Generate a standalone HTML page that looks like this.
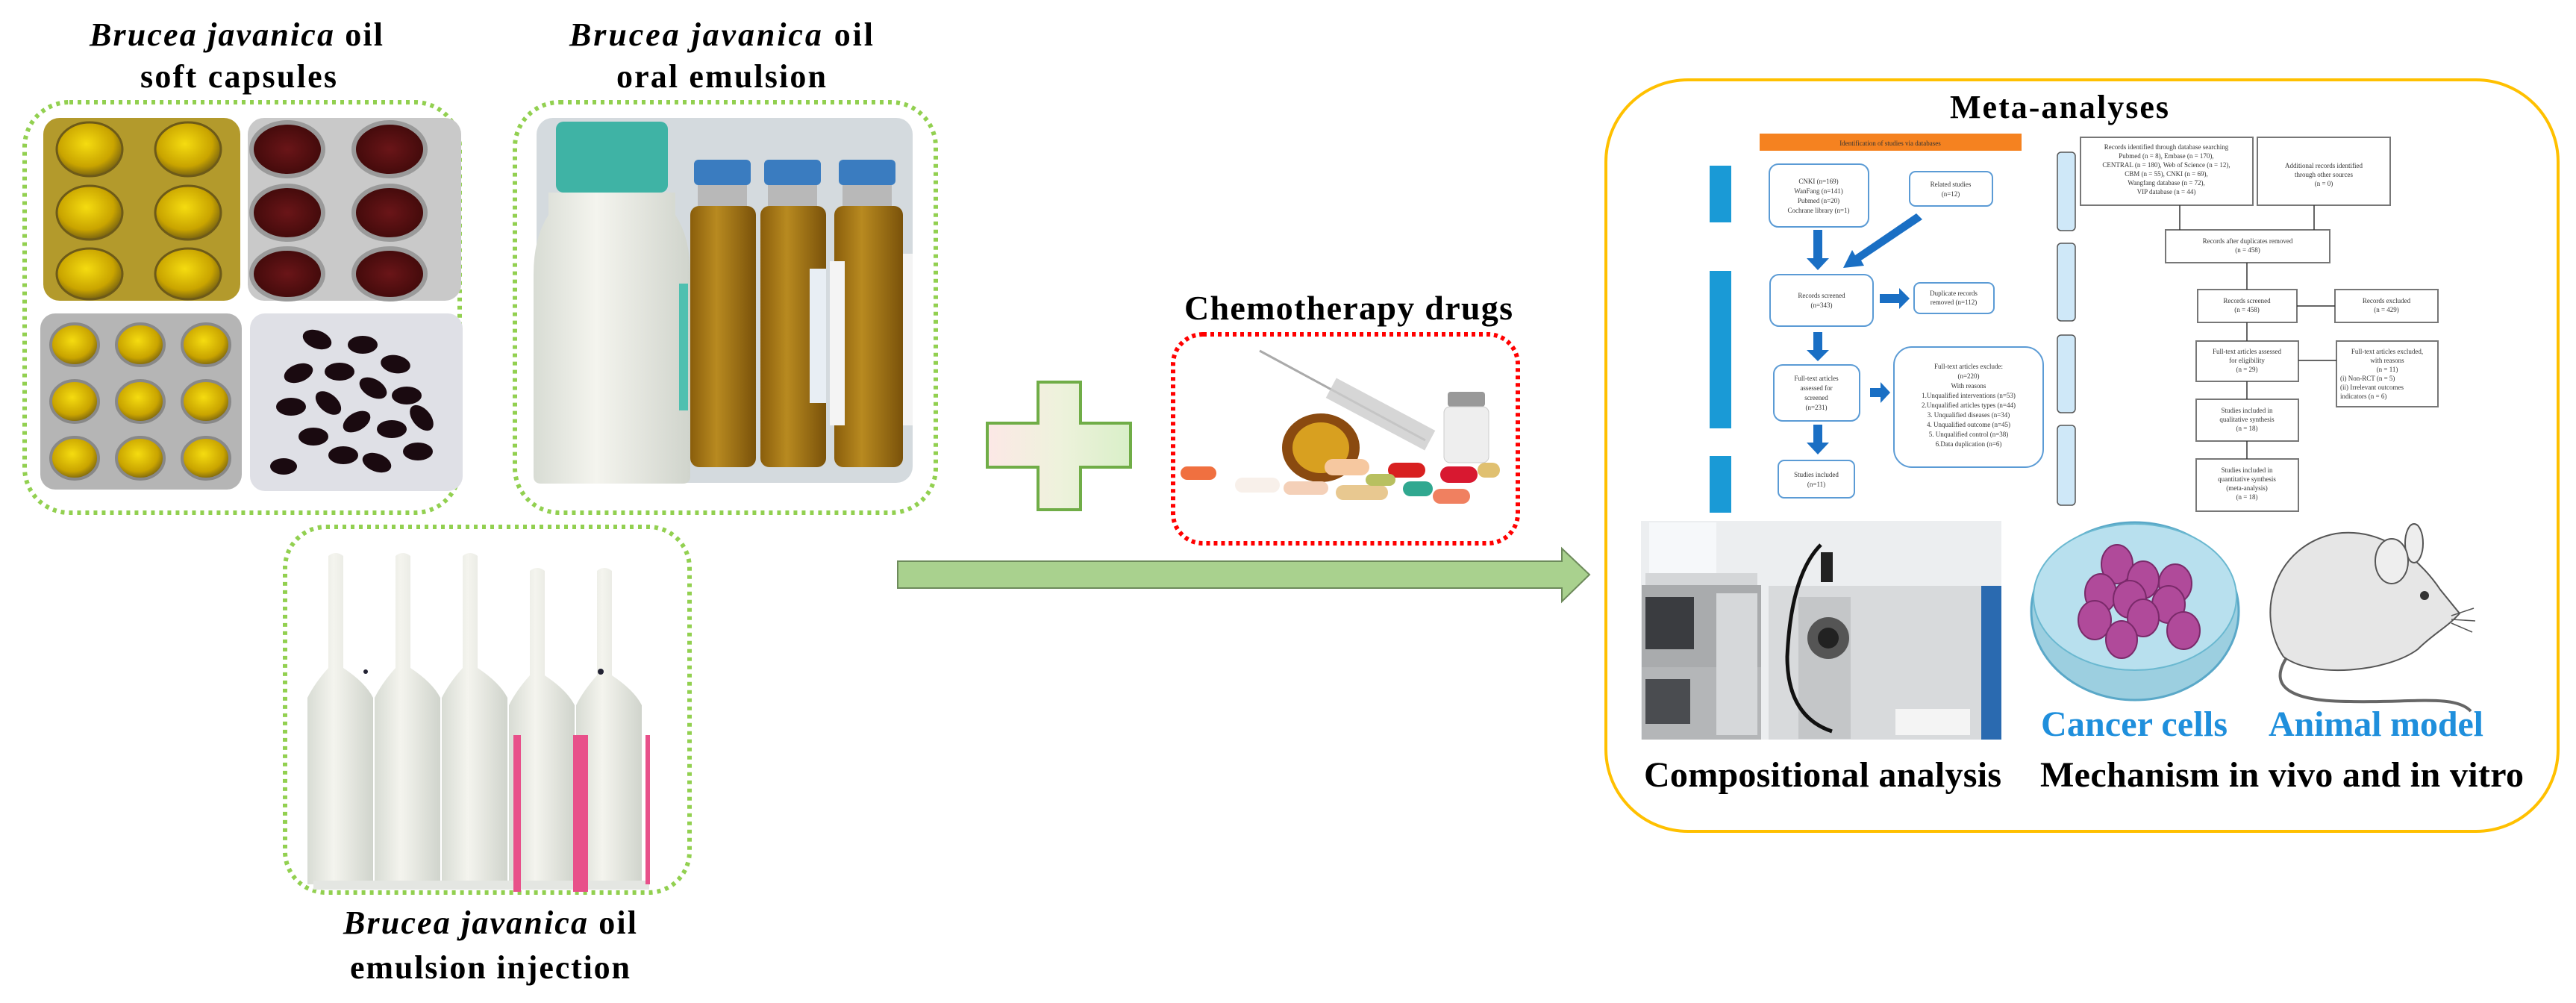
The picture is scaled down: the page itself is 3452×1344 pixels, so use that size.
<!DOCTYPE html>
<html><head><meta charset="utf-8"><style>
html,body{margin:0;padding:0;background:#fff;}
svg{display:block;}
text{font-family:"Liberation Serif",serif;font-weight:bold;}
.s{font-family:"Liberation Serif",serif;font-weight:normal;font-size:9px;fill:#333;}
</style></head><body>
<svg width="3452" height="1344" viewBox="0 0 3452 1344" xmlns="http://www.w3.org/2000/svg">
<defs>
<linearGradient id="pg" x1="0" x2="1" y1="0" y2="0"><stop offset="0" stop-color="#fce8e6"/><stop offset="0.5" stop-color="#eef2dc"/><stop offset="1" stop-color="#d9efc8"/></linearGradient>
<radialGradient id="yel" cx="0.45" cy="0.4" r="0.6"><stop offset="0" stop-color="#f5dc10"/><stop offset="0.7" stop-color="#c9a400"/><stop offset="1" stop-color="#7a6410"/></radialGradient>
<radialGradient id="red" cx="0.5" cy="0.5" r="0.6"><stop offset="0" stop-color="#6a1518"/><stop offset="1" stop-color="#3a0808"/></radialGradient>
<linearGradient id="amb" x1="0" x2="1"><stop offset="0" stop-color="#8a5e0c"/><stop offset="0.4" stop-color="#b88a20"/><stop offset="1" stop-color="#7a520a"/></linearGradient>
<linearGradient id="wht" x1="0" x2="1"><stop offset="0" stop-color="#d8dcd4"/><stop offset="0.4" stop-color="#f4f4ee"/><stop offset="1" stop-color="#d0d4cc"/></linearGradient>
</defs>

<text x="120" y="61" font-size="44" textLength="393"><tspan font-style="italic">Brucea javanica</tspan> oil</text>
<text x="188" y="117" font-size="44" textLength="263">soft capsules</text>
<text x="763" y="61" font-size="44" textLength="407"><tspan font-style="italic">Brucea javanica</tspan>  oil</text>
<text x="826" y="117" font-size="44" textLength="281">oral emulsion</text>
<text x="460" y="1251" font-size="44" textLength="393"><tspan font-style="italic">Brucea javanica</tspan> oil</text>
<text x="469" y="1311" font-size="44" textLength="375">emulsion injection</text>

<rect x="33" y="137" width="583" height="550" rx="60" fill="none" stroke="#92d050" stroke-width="6" stroke-dasharray="5 6"/>
<rect x="58" y="158" width="264" height="245" rx="22" fill="#b39a2c"/>
<g fill="url(#yel)" stroke="#6d5a18" stroke-width="3">
<ellipse cx="120" cy="200" rx="44" ry="36"/><ellipse cx="252" cy="200" rx="44" ry="36"/>
<ellipse cx="120" cy="285" rx="44" ry="36"/><ellipse cx="252" cy="285" rx="44" ry="36"/>
<ellipse cx="120" cy="367" rx="44" ry="34"/><ellipse cx="252" cy="367" rx="44" ry="34"/>
</g>
<rect x="332" y="158" width="286" height="245" rx="22" fill="#c9c9c9"/>
<g fill="url(#red)" stroke="#9a9a9a" stroke-width="6">
<ellipse cx="385" cy="200" rx="48" ry="36"/><ellipse cx="522" cy="200" rx="48" ry="36"/>
<ellipse cx="385" cy="285" rx="48" ry="36"/><ellipse cx="522" cy="285" rx="48" ry="36"/>
<ellipse cx="385" cy="367" rx="48" ry="34"/><ellipse cx="522" cy="367" rx="48" ry="34"/>
</g>
<rect x="54" y="420" width="270" height="236" rx="20" fill="#b5b5b5"/>
<g fill="url(#yel)" stroke="#888" stroke-width="4">
<ellipse cx="100" cy="462" rx="32" ry="28"/><ellipse cx="188" cy="462" rx="32" ry="28"/><ellipse cx="276" cy="462" rx="32" ry="28"/>
<ellipse cx="100" cy="538" rx="32" ry="28"/><ellipse cx="188" cy="538" rx="32" ry="28"/><ellipse cx="276" cy="538" rx="32" ry="28"/>
<ellipse cx="100" cy="614" rx="32" ry="28"/><ellipse cx="188" cy="614" rx="32" ry="28"/><ellipse cx="276" cy="614" rx="32" ry="28"/>
</g>
<rect x="335" y="420" width="285" height="238" rx="20" fill="#dfe0e6"/>
<g fill="#1a0a10">
<ellipse cx="425" cy="455" rx="20" ry="12" transform="rotate(20 425 455)"/><ellipse cx="486" cy="462" rx="20" ry="12"/><ellipse cx="530" cy="488" rx="20" ry="12" transform="rotate(10 530 488)"/>
<ellipse cx="400" cy="500" rx="20" ry="12" transform="rotate(-20 400 500)"/><ellipse cx="455" cy="498" rx="20" ry="12"/><ellipse cx="500" cy="520" rx="20" ry="12" transform="rotate(30 500 520)"/>
<ellipse cx="545" cy="530" rx="20" ry="12"/><ellipse cx="390" cy="545" rx="20" ry="12"/><ellipse cx="440" cy="540" rx="20" ry="12" transform="rotate(40 440 540)"/>
<ellipse cx="478" cy="565" rx="20" ry="12" transform="rotate(-30 478 565)"/><ellipse cx="525" cy="575" rx="20" ry="12"/><ellipse cx="420" cy="585" rx="20" ry="12"/>
<ellipse cx="565" cy="560" rx="20" ry="12" transform="rotate(50 565 560)"/><ellipse cx="460" cy="610" rx="20" ry="12"/><ellipse cx="505" cy="620" rx="20" ry="12" transform="rotate(20 505 620)"/>
<ellipse cx="560" cy="605" rx="20" ry="12"/><ellipse cx="380" cy="625" rx="18" ry="11"/>
</g>

<rect x="690" y="137" width="564" height="550" rx="60" fill="none" stroke="#92d050" stroke-width="6" stroke-dasharray="5 6"/>
<rect x="719" y="158" width="504" height="489" rx="22" fill="#d4dade"/>
<rect x="745" y="163" width="150" height="95" rx="10" fill="#3fb3a5"/>
<path d="M735 258 h170 v30 q20 30 20 80 v270 q0 10 -10 10 h-190 q-10 0 -10 -10 v-270 q0 -50 20 -80z" fill="url(#wht)"/>
<rect x="910" y="380" width="12" height="170" fill="#4fc0b0"/>
<g>
<rect x="930" y="214" width="76" height="34" rx="6" fill="#3a7cc0"/><rect x="935" y="248" width="66" height="28" fill="#b8b8b8"/>
<rect x="925" y="276" width="88" height="350" rx="12" fill="url(#amb)"/>
<rect x="1024" y="214" width="76" height="34" rx="6" fill="#3a7cc0"/><rect x="1029" y="248" width="66" height="28" fill="#b8b8b8"/>
<rect x="1019" y="276" width="88" height="350" rx="12" fill="url(#amb)"/>
<rect x="1124" y="214" width="76" height="34" rx="6" fill="#3a7cc0"/><rect x="1129" y="248" width="66" height="28" fill="#b8b8b8"/>
<rect x="1118" y="276" width="92" height="350" rx="12" fill="url(#amb)"/>
<rect x="1112" y="350" width="20" height="220" fill="#f4f4f4"/><rect x="1210" y="340" width="13" height="230" fill="#f4f4f4"/>
<rect x="1085" y="360" width="22" height="180" fill="#e8eef4"/>
</g>

<rect x="382" y="706" width="542" height="490" rx="55" fill="none" stroke="#92d050" stroke-width="6" stroke-dasharray="5 6"/>
<g fill="url(#wht)">
<path d="M440 745 q10 -8 20 0 v150 q30 20 40 40 v250 h-88 v-250 q10 -20 28 -40z"/>
<path d="M530 745 q10 -8 20 0 v150 q30 20 40 40 v250 h-88 v-250 q10 -20 28 -40z"/>
<path d="M620 745 q10 -8 20 0 v150 q30 20 40 40 v250 h-88 v-250 q10 -20 28 -40z"/>
<path d="M710 765 q10 -8 20 0 v140 q30 20 40 40 v240 h-88 v-240 q10 -20 28 -40z"/>
<path d="M800 765 q10 -8 20 0 v140 q30 20 40 40 v240 h-88 v-240 q10 -20 28 -40z"/>
</g>
<rect x="420" y="1180" width="450" height="12" fill="#e4e6e2"/>
<rect x="688" y="985" width="10" height="210" fill="#e8508a"/><rect x="768" y="985" width="20" height="210" fill="#e8508a"/><rect x="865" y="985" width="6" height="200" fill="#e8508a"/>
<circle cx="490" cy="900" r="3" fill="#223"/><circle cx="805" cy="900" r="4" fill="#223"/>

<path d="M1391 512 h57 v55 h67 v59 h-67 v57 h-57 v-57 h-68 v-59 h68z" fill="url(#pg)" stroke="#70ad47" stroke-width="4"/>

<text x="1587" y="428" font-size="46" textLength="440">Chemotherapy drugs</text>
<rect x="1572" y="448" width="462" height="280" rx="40" fill="none" stroke="#ff0000" stroke-width="6" stroke-dasharray="5 5"/>
<line x1="1688" y1="470" x2="1910" y2="590" stroke="#aaa" stroke-width="3"/>
<rect x="1775" y="540" width="150" height="30" fill="#ccc" opacity="0.8" transform="rotate(28 1850 555)"/>
<ellipse cx="1770" cy="600" rx="52" ry="46" fill="#8a4a10"/><ellipse cx="1770" cy="600" rx="38" ry="34" fill="#d8a020"/>
<rect x="1940" y="525" width="50" height="20" rx="4" fill="#999"/><rect x="1935" y="545" width="60" height="75" rx="8" fill="#eee" stroke="#ccc"/>
<g>
<rect x="1582" y="625" width="48" height="18" rx="9" fill="#f07040"/><rect x="1655" y="640" width="60" height="20" rx="10" fill="#f8f0ea"/>
<rect x="1720" y="645" width="60" height="18" rx="9" fill="#f4d0b8"/><rect x="1775" y="615" width="60" height="22" rx="11" fill="#f6c8a0"/>
<rect x="1790" y="650" width="70" height="20" rx="10" fill="#e8c890"/><rect x="1860" y="620" width="50" height="20" rx="10" fill="#d82020"/>
<rect x="1880" y="645" width="40" height="20" rx="10" fill="#30a890"/><rect x="1920" y="655" width="50" height="20" rx="10" fill="#f08060"/>
<rect x="1930" y="625" width="50" height="22" rx="11" fill="#d81830"/><rect x="1980" y="620" width="30" height="20" rx="10" fill="#e0c070"/>
<rect x="1830" y="635" width="40" height="16" rx="8" fill="#b8c060"/>
</g>

<polygon points="1203,752 2093,752 2093,735 2130,770 2093,806 2093,788 1203,788" fill="#a9d18e" stroke="#6d8a5b" stroke-width="2"/>

<rect x="2152" y="107" width="1276" height="1007" rx="110" fill="none" stroke="#ffc000" stroke-width="4"/>
<text x="2613" y="158" font-size="44" textLength="293">Meta-analyses</text>

<rect x="2358" y="179" width="351" height="23" fill="#f58220"/>
<text class="s" x="2533" y="195" text-anchor="middle">Identification of studies via databases</text>
<g fill="#1a9ad6"><rect x="2291" y="222" width="29" height="76"/><rect x="2291" y="363" width="29" height="211"/><rect x="2291" y="611" width="29" height="76"/></g>
<g fill="#fff" stroke="#5b9bd5" stroke-width="2">
<rect x="2371" y="220" width="133" height="84" rx="12"/><rect x="2559" y="230" width="111" height="46" rx="8"/>
<rect x="2372" y="368" width="138" height="69" rx="12"/><rect x="2565" y="379" width="107" height="41" rx="8"/>
<rect x="2377" y="489" width="115" height="75" rx="12"/><rect x="2538" y="465" width="200" height="161" rx="24"/>
<rect x="2383" y="617" width="102" height="50" rx="8"/>
</g>
<g class="s" text-anchor="middle">
<text class="s" x="2437" y="246">CNKI (n=169)</text><text class="s" x="2437" y="259">WanFang (n=141)</text><text class="s" x="2437" y="272">Pubmed (n=20)</text><text class="s" x="2437" y="285">Cochrane library (n=1)</text>
<text class="s" x="2614" y="250">Related studies</text><text class="s" x="2614" y="263">(n=12)</text>
<text class="s" x="2441" y="399">Records screened</text><text class="s" x="2441" y="412">(n=343)</text>
<text class="s" x="2618" y="396">Duplicate records</text><text class="s" x="2618" y="408">removed (n=112)</text>
<text class="s" x="2434" y="510">Full-text articles</text><text class="s" x="2434" y="523">assessed for</text><text class="s" x="2434" y="536">screened</text><text class="s" x="2434" y="549">(n=231)</text>
<text class="s" x="2638" y="494">Full-text articles exclude:</text><text class="s" x="2638" y="507">(n=220)</text><text class="s" x="2638" y="520">With reasons</text>
<text class="s" x="2638" y="533">1.Unqualified interventions (n=53)</text><text class="s" x="2638" y="546">2.Unqualified articles types (n=44)</text>
<text class="s" x="2638" y="559">3. Unqualified diseases (n=34)</text><text class="s" x="2638" y="572">4. Unqualified outcome (n=45)</text>
<text class="s" x="2638" y="585">5. Unqualified control (n=38)</text><text class="s" x="2638" y="598">6.Data duplication (n=6)</text>
<text class="s" x="2434" y="639">Studies included</text><text class="s" x="2434" y="652">(n=11)</text>
</g>
<g fill="#1a6fc4">
<path d="M2430 308 h12 v38 h9 l-15 16 l-15 -16 h9z"/>
<path d="M2568 286 l8 8 l-82 55 l4 7 l-28 3 l12 -24 l4 7z"/>
<path d="M2519 394 h26 v-8 l14 14 l-14 14 v-8 h-26z"/>
<path d="M2430 445 h12 v24 h9 l-15 15 l-15 -15 h9z"/>
<path d="M2506 520 h14 v-8 l13 14 l-13 14 v-8 h-14z"/>
<path d="M2430 569 h12 v24 h9 l-15 16 l-15 -16 h9z"/>
</g>

<g fill="#cfe8f8" stroke="#555" stroke-width="1.5">
<rect x="2757" y="204" width="24" height="105" rx="5"/><rect x="2757" y="326" width="24" height="104" rx="5"/>
<rect x="2757" y="449" width="24" height="104" rx="5"/><rect x="2757" y="570" width="24" height="107" rx="5"/>
</g>
<g fill="#fff" stroke="#777" stroke-width="2">
<rect x="2788" y="184" width="231" height="91"/><rect x="3025" y="184" width="178" height="91"/>
<rect x="2902" y="308" width="220" height="44"/>
<rect x="2945" y="388" width="133" height="44"/><rect x="3129" y="388" width="138" height="44"/>
<rect x="2943" y="457" width="137" height="54"/><rect x="3131" y="457" width="136" height="88"/>
<rect x="2943" y="535" width="137" height="56"/><rect x="2943" y="615" width="137" height="70"/>
</g>
<g stroke="#333" stroke-width="1.5">
<line x1="2921" y1="275" x2="2921" y2="308"/><line x1="3101" y1="275" x2="3101" y2="308"/>
<line x1="3011" y1="352" x2="3011" y2="388"/><line x1="3078" y1="410" x2="3129" y2="410"/>
<line x1="3011" y1="432" x2="3011" y2="457"/><line x1="3080" y1="483" x2="3131" y2="483"/>
<line x1="3011" y1="511" x2="3011" y2="535"/><line x1="3011" y1="591" x2="3011" y2="615"/>
</g>
<g>
<text class="s" x="2903" y="200" text-anchor="middle">Records identified through database searching</text>
<text class="s" x="2903" y="212" text-anchor="middle">Pubmed (n = 8), Embase (n = 170),</text>
<text class="s" x="2903" y="224" text-anchor="middle">CENTRAL (n = 180), Web of Science (n = 12),</text>
<text class="s" x="2903" y="236" text-anchor="middle">CBM (n = 55), CNKI (n = 69),</text>
<text class="s" x="2903" y="248" text-anchor="middle">Wangfang database (n = 72),</text>
<text class="s" x="2903" y="260" text-anchor="middle">VIP database (n = 44)</text>
<text class="s" x="3114" y="225" text-anchor="middle">Additional records identified</text>
<text class="s" x="3114" y="237" text-anchor="middle">through other sources</text>
<text class="s" x="3114" y="249" text-anchor="middle">(n = 0)</text>
<text class="s" x="3012" y="326" text-anchor="middle">Records after duplicates removed</text>
<text class="s" x="3012" y="338" text-anchor="middle">(n = 458)</text>
<text class="s" x="3011" y="406" text-anchor="middle">Records screened</text><text class="s" x="3011" y="418" text-anchor="middle">(n = 458)</text>
<text class="s" x="3198" y="406" text-anchor="middle">Records excluded</text><text class="s" x="3198" y="418" text-anchor="middle">(n = 429)</text>
<text class="s" x="3011" y="474" text-anchor="middle">Full-text articles assessed</text><text class="s" x="3011" y="486" text-anchor="middle">for eligibility</text><text class="s" x="3011" y="498" text-anchor="middle">(n = 29)</text>
<text class="s" x="3199" y="474" text-anchor="middle">Full-text articles excluded,</text><text class="s" x="3199" y="486" text-anchor="middle">with reasons</text><text class="s" x="3199" y="498" text-anchor="middle">(n = 11)</text>
<text class="s" x="3136" y="510">(i) Non-RCT (n = 5)</text><text class="s" x="3136" y="522">(ii) Irrelevant outcomes</text><text class="s" x="3136" y="534">indicators (n = 6)</text>
<text class="s" x="3011" y="553" text-anchor="middle">Studies included in</text><text class="s" x="3011" y="565" text-anchor="middle">qualitative synthesis</text><text class="s" x="3011" y="577" text-anchor="middle">(n = 18)</text>
<text class="s" x="3011" y="633" text-anchor="middle">Studies included in</text><text class="s" x="3011" y="645" text-anchor="middle">quantitative synthesis</text><text class="s" x="3011" y="657" text-anchor="middle">(meta-analysis)</text><text class="s" x="3011" y="669" text-anchor="middle">(n = 18)</text>
</g>

<rect x="2199" y="698" width="483" height="293" fill="#eceef0"/>
<rect x="2210" y="700" width="90" height="70" fill="#f6f8fa"/>
<rect x="2205" y="768" width="150" height="16" fill="#d4d6d8"/>
<rect x="2200" y="784" width="160" height="110" fill="#a9abad"/><rect x="2205" y="800" width="65" height="70" fill="#3a3c40"/>
<rect x="2200" y="894" width="160" height="97" fill="#b4b6b8"/><rect x="2205" y="910" width="60" height="60" fill="#4a4c50"/>
<rect x="2300" y="795" width="55" height="190" fill="#d6d8da"/>
<rect x="2370" y="785" width="312" height="206" fill="#d8dadc"/>
<rect x="2655" y="785" width="27" height="206" fill="#2a6ab0"/>
<rect x="2410" y="800" width="70" height="190" fill="#c4c6c8"/>
<circle cx="2450" cy="855" r="28" fill="#555"/><circle cx="2450" cy="855" r="14" fill="#222"/>
<path d="M2440 730 q-40 40 -45 150 q0 80 60 100" fill="none" stroke="#111" stroke-width="5"/>
<rect x="2440" y="740" width="16" height="40" fill="#222"/>
<rect x="2540" y="950" width="100" height="35" fill="#f4f4f4"/>

<ellipse cx="2861" cy="819" rx="139" ry="119" fill="#9ccfe0" stroke="#5aa8c8" stroke-width="3"/>
<ellipse cx="2861" cy="800" rx="136" ry="98" fill="#b8e0ee" stroke="#6ab8d0" stroke-width="2"/>
<g fill="#b04a9a" stroke="#7a2a6a" stroke-width="2">
<ellipse cx="2837" cy="756" rx="21" ry="26"/><ellipse cx="2872" cy="777" rx="21" ry="25"/><ellipse cx="2915" cy="782" rx="22" ry="26"/>
<ellipse cx="2815" cy="795" rx="21" ry="26"/><ellipse cx="2854" cy="803" rx="22" ry="25"/><ellipse cx="2906" cy="810" rx="22" ry="25"/>
<ellipse cx="2807" cy="831" rx="22" ry="26"/><ellipse cx="2872" cy="828" rx="21" ry="25"/><ellipse cx="2926" cy="845" rx="22" ry="25"/>
<ellipse cx="2843" cy="857" rx="21" ry="25"/>
</g>

<path d="M3065 880 C3035 925 3080 940 3150 940 C3230 942 3290 930 3311 953" fill="none" stroke="#666" stroke-width="4"/>
<path d="M3060 880 C3020 820 3050 730 3130 715 C3200 705 3250 760 3270 790 L3296 822 C3280 840 3260 850 3240 870 C3200 900 3100 910 3060 880Z" fill="#e6e6e6" stroke="#555" stroke-width="2"/>
<ellipse cx="3235" cy="728" rx="12" ry="26" fill="#eee" stroke="#555" stroke-width="2"/>
<ellipse cx="3205" cy="752" rx="22" ry="30" fill="#eee" stroke="#555" stroke-width="2"/>
<circle cx="3249" cy="798" r="6" fill="#333"/>
<path d="M3285 825 l30 -10 M3285 830 l32 2 M3285 835 l28 12" stroke="#555" stroke-width="1.5"/>

<text x="2735" y="986" font-size="48" fill="#1f8fdc" textLength="250">Cancer cells</text>
<text x="3040" y="986" font-size="48" fill="#1f8fdc" textLength="288">Animal model</text>
<text x="2203" y="1054" font-size="48" textLength="479">Compositional analysis</text>
<text x="2734" y="1054" font-size="48" textLength="648">Mechanism in vivo and in vitro</text>
</svg>
</body></html>
